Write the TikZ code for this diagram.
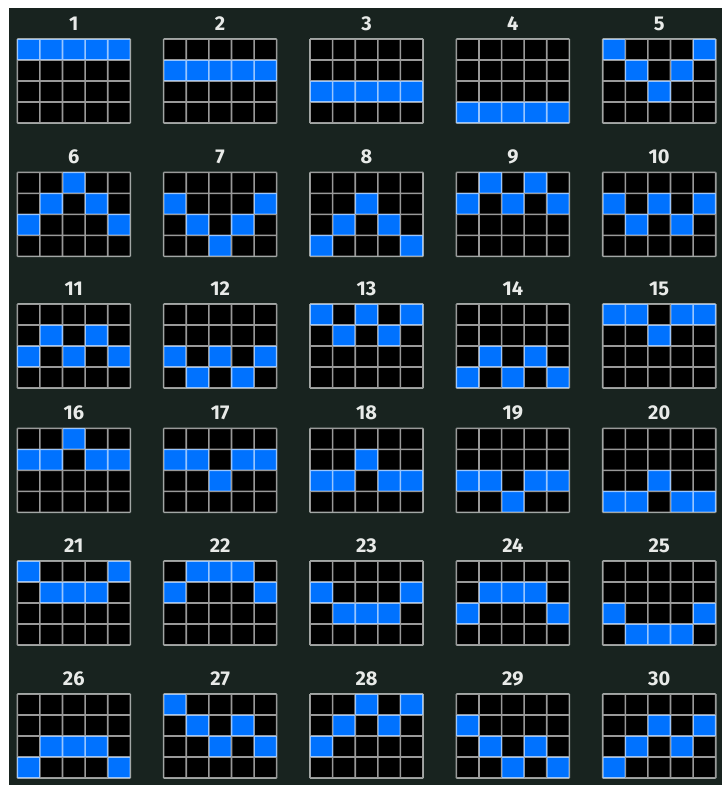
\documentclass[tikz,border=0pt]{standalone}
\usepackage{fontspec}
\setmainfont{Fira Sans}
\definecolor{bgc}{RGB}{24,35,31}
\definecolor{cellblue}{RGB}{0,114,255}
\definecolor{lbl}{RGB}{232,234,232}
\begin{document}
\begin{tikzpicture}[x=1pt,y=-1pt,
  gridline/.style={line width=1.6pt, white, opacity=0.6},
  lbltext/.style={font=\bfseries\fontsize{20}{20}\selectfont, text=lbl, anchor=base, inner sep=0pt}]
\useasboundingbox (0,0) rectangle (722,785);
\fill[white] (0,0) rectangle (722,785);
\fill[bgc] (9,8) rectangle (722,785);
\def\rowtops{{39,172.3,304,428.3,561,694}}
\foreach \n/\pa/\pb/\pc/\pd/\pe in {
  1/1/1/1/1/1, 2/2/2/2/2/2, 3/3/3/3/3/3, 4/4/4/4/4/4, 5/1/2/3/2/1,
  6/3/2/1/2/3, 7/2/3/4/3/2, 8/4/3/2/3/4, 9/2/1/2/1/2, 10/2/3/2/3/2,
  11/3/2/3/2/3, 12/3/4/3/4/3, 13/1/2/1/2/1, 14/4/3/4/3/4, 15/1/1/2/1/1,
  16/2/2/1/2/2, 17/2/2/3/2/2, 18/3/3/2/3/3, 19/3/3/4/3/3, 20/4/4/3/4/4,
  21/1/2/2/2/1, 22/2/1/1/1/2, 23/2/3/3/3/2, 24/3/2/2/2/3, 25/3/4/4/4/3,
  26/4/3/3/3/4, 27/1/2/3/2/3, 28/3/2/1/2/1, 29/2/3/4/3/4, 30/4/3/2/3/2}{
  \pgfmathtruncatemacro\ci{mod(\n-1,5)}
  \pgfmathtruncatemacro\ri{div(\n-1,5)}
  \pgfmathsetmacro\gx{17.3+146.35*\ci}
  \pgfmathsetmacro\gy{\rowtops[\ri]}
  \fill[black] (\gx,\gy) rectangle ++(113,84);
  \foreach \k/\r in {0/\pa,1/\pb,2/\pc,3/\pd,4/\pe}{
    \fill[cellblue] ({\gx+22.6*\k},{\gy+21*\r-21}) rectangle ++(22.6,21);
  }
  \begin{scope}[transparency group, opacity=0.6]
    \foreach \k in {0,...,5}{
      \draw[line width=1.6pt, white] ({\gx+22.6*\k},\gy) -- ++(0,84);
    }
    \foreach \k in {0,...,4}{
      \draw[line width=1.6pt, white] (\gx,{\gy+21*\k}) -- ++(113,0);
    }
  \end{scope}
  \node[lbltext] (lab\n) at ({\gx+56.5},{\gy-8.5}) {\n};
}
\end{tikzpicture}
\end{document}
